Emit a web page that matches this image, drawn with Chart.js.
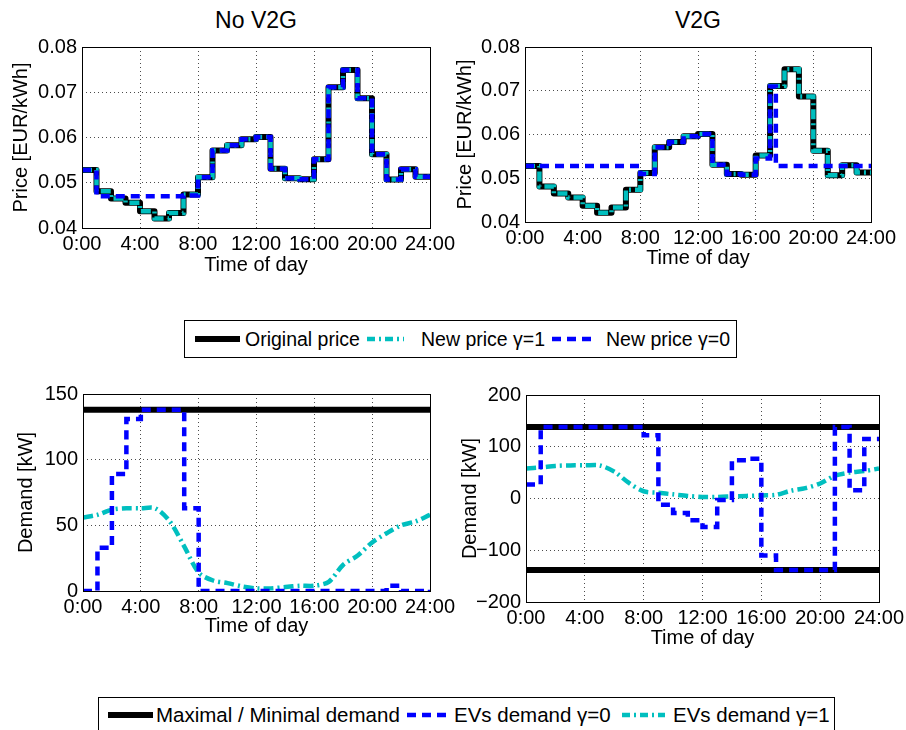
<!DOCTYPE html>
<html>
<head>
<meta charset="utf-8">
<script src="https://cdn.jsdelivr.net/npm/chart.js@4.4.1/dist/chart.umd.min.js"></script>
<style>
  body { margin: 0; background: #fff; width: 906px; height: 730px; position: relative; overflow: hidden;
         font-family: "Liberation Sans", Arial, sans-serif; color: #000; }
  canvas { position: absolute; }
  .title { position: absolute; font-size: 23px; line-height: 26px; transform: translateX(-50%); white-space: nowrap; }
  .legend { position: absolute; box-sizing: border-box; border: 1px solid #000; background: #fff; }
  .legend > * { position: absolute; top: 50%; transform: translateY(-50%); white-space: nowrap; }
  .legend svg { display: block; }
</style>
</head>
<body>
<div class="title" style="left:256px;top:7px">No V2G</div>
<div class="title" style="left:698px;top:7px">V2G</div>

<canvas id="priceNoV2G"></canvas>
<canvas id="priceV2G"></canvas>
<canvas id="demandNoV2G"></canvas>
<canvas id="demandV2G"></canvas>

<div class="legend" style="left:184px;top:320px;width:553px;height:38px;font-size:19.5px">
  <svg style="left:10px" width="45" height="10"><line x1="0" y1="5" x2="45" y2="5" stroke="#000" stroke-width="6"/></svg>
  <span style="left:60px">Original price</span>
  <svg style="left:182px" width="37" height="10"><line x1="0" y1="5" x2="37" y2="5" stroke="#00bfbf" stroke-width="4.5" stroke-dasharray="8 4 2 4"/></svg>
  <span style="left:236px">New price γ=1</span>
  <svg style="left:367px" width="43" height="10"><line x1="0" y1="5" x2="43" y2="5" stroke="#0000ff" stroke-width="4.5" stroke-dasharray="9 6"/></svg>
  <span style="left:421px">New price γ=0</span>
</div>

<div class="legend" style="left:98px;top:697px;width:737px;height:35px;font-size:20.5px">
  <svg style="left:9px" width="45" height="10"><line x1="0" y1="5" x2="45" y2="5" stroke="#000" stroke-width="6"/></svg>
  <span style="left:57px">Maximal / Minimal demand</span>
  <svg style="left:308px" width="43" height="10"><line x1="0" y1="5" x2="43" y2="5" stroke="#0000ff" stroke-width="4.5" stroke-dasharray="9 6"/></svg>
  <span style="left:355px">EVs demand γ=0</span>
  <svg style="left:523px" width="43" height="10"><line x1="0" y1="5" x2="43" y2="5" stroke="#00bfbf" stroke-width="4.5" stroke-dasharray="8 4 2 4"/></svg>
  <span style="left:574px">EVs demand γ=1</span>
</div>

<script>
// time axis, one value per hour start (last entry = 24:00)
const hours = [0,1,2,3,4,5,6,7,8,9,10,11,12,13,14,15,16,17,18,19,20,21,22,23,24];

// prices in EUR/kWh
const originalPrice = [0.0528,0.0481,0.0465,0.0456,0.0437,0.0421,0.0433,0.0474,0.0512,0.0571,0.0583,0.0596,0.0601,
                       0.0531,0.0510,0.0508,0.0552,0.0711,0.0749,0.0687,0.0563,0.0507,0.0530,0.0513,0.0513];
const newPriceG1NoV2G = [0.0528,0.0481,0.0465,0.0456,0.0437,0.0421,0.0433,0.0474,0.0512,0.0571,0.0583,0.0596,0.0601,
                         0.0531,0.0510,0.0508,0.0552,0.0711,0.0749,0.0687,0.0563,0.0507,0.0530,0.0513,0.0513];
const newPriceG0NoV2G = [0.0528,0.0470,0.0470,0.0470,0.0470,0.0470,0.0470,0.0472,0.0512,0.0571,0.0583,0.0596,0.0601,
                         0.0531,0.0510,0.0508,0.0552,0.0711,0.0749,0.0687,0.0563,0.0507,0.0530,0.0513,0.0513];
const newPriceG1V2G = [0.0528,0.0481,0.0465,0.0456,0.0437,0.0421,0.0433,0.0474,0.0512,0.0571,0.0583,0.0596,0.0601,
                       0.0531,0.0510,0.0508,0.0552,0.0711,0.0749,0.0687,0.0563,0.0507,0.0530,0.0513,0.0513];
const hoursG0V2G = [0,1,2,3,4,5,6,7,8,9,10,11,12,13,14,15,16,17,17.4,24];
const newPriceG0V2G = [0.0528,0.0528,0.0528,0.0528,0.0528,0.0528,0.0528,0.0528,0.0510,0.0571,0.0583,0.0596,0.0601,
                       0.0531,0.0510,0.0508,0.0545,0.0710,0.0528,0.0528];

// demand in kW
const maxDemand = 138;
const minDemand = -138;
const evDemandG0NoV2G = [0,33,89,131,138,138,138,63,0,0,0,0,0,0,0,0,0,0,0,0,0,4,0,0,1];
const evDemandG1NoV2G = [56,58,62,63,63,63,53,34,14,8,6,3.5,2,2,3,4,4,7,20,27,37,44,50,53,58];
const evDemandG0V2G = [27,138,138,138,138,138,138,138,122,-12,-28,-42,-55,-3,74,77,-110,-138,-138,-138,-138,138,16,115,115];
const evDemandG1V2G = [58,60,63,64,64,64,52,30,14,11,8,5,3,3,4,5,6,7,15,20,29,44,50,53,58];

const FONT = '"Liberation Sans", Arial, sans-serif';
Chart.defaults.font.family = FONT;
Chart.defaults.color = '#000';

const pts = (xs, ys) => xs.map((x, i) => ({ x: x, y: ys[i] }));

const boxPlugin = {
  id: 'axesBox',
  afterDatasetsDraw(chart) {
    const a = chart.chartArea, c = chart.ctx;
    c.save();
    c.strokeStyle = '#000';
    c.lineWidth = 1;
    c.strokeRect(Math.round(a.left) + 0.5, Math.round(a.top) + 0.5, Math.round(a.right - a.left), Math.round(a.bottom - a.top));
    c.restore();
  }
};

function blackLine(data) {
  return { data: data, borderColor: '#000', borderWidth: 6, pointRadius: 0, order: 3, stepped: 'before',
           borderJoinStyle: 'round' };
}
function blueLine(data, stepped) {
  return { data: data, borderColor: '#0000ff', borderWidth: 4.5, borderDash: [9, 6], pointRadius: 0, order: 1, stepped: stepped };
}
function cyanLine(data, stepped) {
  return { data: data, borderColor: '#00bfbf', borderWidth: 4.5, borderDash: [10, 4, 2, 4], pointRadius: 0, order: 2,
           stepped: stepped, tension: stepped ? 0 : 0.3 };
}

function makeChart(id, pos, datasets, y) {
  const cv = document.getElementById(id);
  cv.width = pos.w; cv.height = pos.h;
  cv.style.left = pos.l + 'px'; cv.style.top = pos.t + 'px';
  return new Chart(cv, {
    type: 'line',
    data: { datasets: datasets },
    plugins: [boxPlugin],
    options: {
      responsive: false,
      animation: false,
      layout: { padding: { left: 0, right: 32, top: 20, bottom: 0 } },
      plugins: { legend: { display: false }, tooltip: { enabled: false } },
      scales: {
        x: {
          type: 'linear', min: 0, max: 24,
          ticks: { stepSize: 4, autoSkip: false, maxRotation: 0, padding: 4, font: { size: 20 },
                   callback: v => v + ':00' },
          grid: { color: 'rgba(0,0,0,0.7)', lineWidth: 1, drawTicks: false },
          border: { display: false, dash: [1, 3] },
          title: { display: true, text: 'Time of day', font: { size: 20 }, padding: 0 },
          afterFit: s => { s.height = pos.hx; }
        },
        y: {
          min: y.min, max: y.max,
          ticks: { stepSize: y.step, padding: 5, font: { size: 20 }, callback: y.fmt },
          grid: { color: 'rgba(0,0,0,0.7)', lineWidth: 1, drawTicks: false },
          border: { display: false, dash: [1, 3] },
          title: { display: true, text: y.title, font: { size: 20 }, padding: 0 },
          afterFit: s => { s.width = pos.wy; }
        }
      }
    }
  });
}

const priceFmt = v => v.toFixed(2);
const demandFmt = v => (v < 0 ? '\u2212' + Math.abs(v) : '' + v);

makeChart('priceNoV2G', { l: 9, t: 27, w: 453, h: 250, wy: 73, hx: 49 }, [
  blackLine(pts(hours, originalPrice)),
  cyanLine(pts(hours, newPriceG1NoV2G), 'before'),
  blueLine(pts(hours, newPriceG0NoV2G), 'before')
], { min: 0.04, max: 0.08, step: 0.01, fmt: priceFmt, title: 'Price [EUR/kWh]' });

makeChart('priceV2G', { l: 453, t: 27, w: 450, h: 243, wy: 72, hx: 48 }, [
  blackLine(pts(hours, originalPrice)),
  cyanLine(pts(hours, newPriceG1V2G), 'before'),
  blueLine(pts(hoursG0V2G, newPriceG0V2G), 'before')
], { min: 0.04, max: 0.08, step: 0.01, fmt: priceFmt, title: 'Price [EUR/kWh]' });

makeChart('demandNoV2G', { l: 14, t: 374, w: 448, h: 264, wy: 69, hx: 47 }, [
  blackLine(pts([0, 24], [maxDemand, maxDemand])),
  blueLine(pts(hours, evDemandG0NoV2G), 'before'),
  cyanLine(pts(hours, evDemandG1NoV2G), false)
], { min: 0, max: 150, step: 50, fmt: demandFmt, title: 'Demand [kW]' });

makeChart('demandV2G', { l: 458, t: 375, w: 453, h: 275, wy: 68, hx: 48 }, [
  blackLine(pts([0, 24], [maxDemand, maxDemand])),
  blackLine(pts([0, 24], [minDemand, minDemand])),
  blueLine(pts(hours, evDemandG0V2G), 'before'),
  cyanLine(pts(hours, evDemandG1V2G), false)
], { min: -200, max: 200, step: 100, fmt: demandFmt, title: 'Demand [kW]' });
</script>
</body>
</html>
